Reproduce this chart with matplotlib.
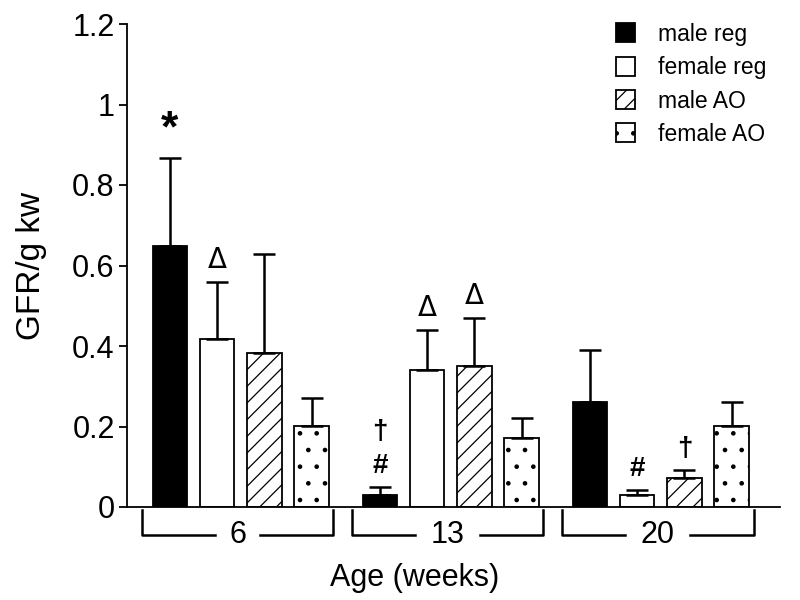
import numpy as np
import matplotlib.pyplot as plt

plt.rcParams['font.family'] = ['Liberation Sans', 'DejaVu Sans']
plt.rcParams['hatch.linewidth'] = 0.9

ages = ["6", "13", "20"]
groups = ["male reg", "female reg", "male AO", "female AO"]

male_reg = [0.648, 0.030, 0.262]
female_reg = [0.417, 0.340, 0.031]
male_ao = [0.382, 0.350, 0.073]
female_ao = [0.201, 0.172, 0.202]

male_reg_err = [0.219, 0.020, 0.128]
female_reg_err = [0.141, 0.100, 0.011]
male_ao_err = [0.247, 0.119, 0.019]
female_ao_err = [0.070, 0.048, 0.060]

# significance marks: (age index, group index, text)
marks = [(0, 0, "*"), (0, 1, "\u0394"),
         (1, 0, "#"), (1, 0, "\u2020"), (1, 1, "\u0394"), (1, 2, "\u0394"),
         (2, 1, "#"), (2, 2, "\u2020")]

values = [male_reg, female_reg, male_ao, female_ao]
errors = [male_reg_err, female_reg_err, male_ao_err, female_ao_err]
faces = ["black", "white", "white", "white"]
hatches = [None, None, "//", "."]

group_off = np.array([0, 4.44, 8.88])
width = 0.73

fig = plt.figure(figsize=(8, 6), dpi=100)
ax = fig.add_axes([0.159, 0.155, 0.816, 0.805])

for i in range(4):
    xs = group_off + i
    ax.bar(xs, values[i], width, color=faces[i], edgecolor="black",
           linewidth=1.3, hatch=hatches[i], label=groups[i], zorder=2)
    ax.errorbar(xs, values[i], yerr=[np.zeros(3), errors[i]], fmt="none",
                ecolor="black", elinewidth=1.8, capsize=8, capthick=1.8, zorder=3)

# place significance symbols above error bars
stack = {}
for a, g, txt in marks:
    top = values[g][a] + errors[g][a]
    n = stack.get((a, g), 0)
    stack[(a, g)] = n + 1
    y = top + 0.02 + n * 0.085
    if txt == "*":
        ax.text(group_off[a] + g, top + 0.02, txt, ha="center", va="bottom",
                fontsize=32, fontweight="bold")
    elif txt == "\u0394":
        ax.text(group_off[a] + g, y, txt, ha="center", va="bottom",
                fontsize=20, family=["DejaVu Sans"])
    else:
        ax.text(group_off[a] + g, y, txt, ha="center", va="bottom",
                fontsize=20, fontweight="bold")

ax.set_ylim(0, 1.2)
ax.set_xlim(-0.9, 12.9)
ax.set_yticks([0, 0.2, 0.4, 0.6, 0.8, 1.0, 1.2])
ax.set_yticklabels(["0", "0.2", "0.4", "0.6", "0.8", "1", "1.2"])
ax.set_xticks([])
ax.tick_params(axis="y", direction="out", length=6, width=1.3, labelsize=22, pad=3)
for s in ["top", "right"]:
    ax.spines[s].set_visible(False)
ax.spines["left"].set_linewidth(1.3)
ax.spines["bottom"].set_linewidth(1.3)
ax.set_ylabel("GFR/g kw", fontsize=24, labelpad=18)

# age brackets below the axis
trans = ax.get_xaxis_transform()
for k, lab in enumerate(ages):
    x0 = group_off[k] - 0.59
    x1 = group_off[k] + 3.46
    xc = (x0 + x1) / 2
    y_top, y_bot = -0.006, -0.058
    half = 0.25 + 0.22 * len(lab)
    ax.plot([x0, x0, xc - half], [y_top, y_bot, y_bot], color="black",
            lw=1.8, transform=trans, clip_on=False)
    ax.plot([xc + half, x1, x1], [y_bot, y_bot, y_top],
            color="black", lw=1.8, transform=trans, clip_on=False)
    ax.text(xc, y_bot, lab, ha="center", va="center",
            fontsize=22, transform=trans)

ax.text(0.44, -0.147, "Age (weeks)", ha="center", va="center", fontsize=22,
        transform=ax.transAxes)

ax.legend(loc="upper right", bbox_to_anchor=(1.01, 1.045), frameon=False,
          fontsize=16.5, handlelength=0.8, handleheight=0.9, labelspacing=0.45,
          handletextpad=1.0)

fig.savefig("out.png", dpi=100)
